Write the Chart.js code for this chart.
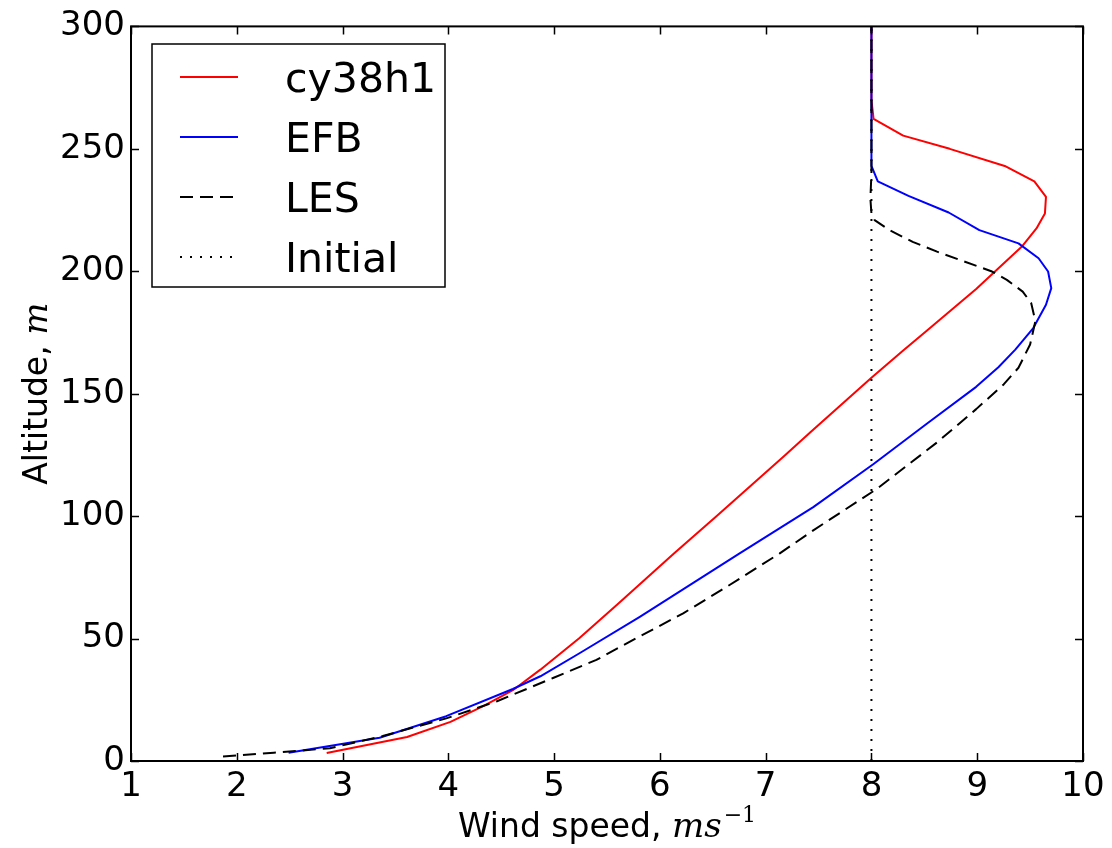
<!DOCTYPE html>
<html><head><meta charset="utf-8">
<script src="https://cdn.jsdelivr.net/npm/chart.js@4.4.1/dist/chart.umd.min.js"></script>
<style>html,body{margin:0;padding:0;background:#fff;overflow:hidden;}</style>
</head><body>
<canvas id="c" width="1112" height="848"></canvas>
<script>
// ---- data ----
const seriesLabels = ['cy38h1', 'EFB', 'LES', 'Initial'];

const cySpeed = [2.85, 3.61, 4.02, 4.33, 4.61, 4.87, 5.24, 5.60, 6.13, 6.54, 7.17, 7.42, 8.0, 8.30, 8.52, 8.99, 9.15, 9.42, 9.56, 9.64, 9.65, 9.54, 9.26, 8.74, 8.30, 8.02, 8.0, 8.0];
const cyAlt   = [3.3, 9.8, 16, 22.4, 28.9, 37.3, 50.2, 64, 84.6, 100.2, 124.4, 134.2, 156.5, 167.6, 175.6, 192.8, 199.2, 210, 217.5, 223.6, 230.4, 236.7, 243, 250, 255.4, 262.2, 270, 300];

const efbSpeed = [2.49, 3.35, 3.98, 4.61, 4.87, 5.24, 5.81, 6.75, 7.45, 8.02, 8.52, 8.99, 9.20, 9.36, 9.53, 9.65, 9.70, 9.67, 9.58, 9.39, 9.02, 8.73, 8.35, 8.06, 8.0, 8.0];
const efbAlt   = [3.4, 9.5, 18.3, 29.4, 34.6, 44, 58.9, 84.7, 103.7, 121.3, 137.6, 152.8, 160.8, 168, 176.8, 186.3, 193.1, 199.9, 205.3, 211.4, 216.8, 224, 230.8, 236.7, 243, 300];

const lesSpeed = [1.87, 2.35, 2.88, 3.38, 3.98, 4.46, 4.99, 5.40, 5.78, 6.22, 6.63, 7.13, 7.45, 8.05, 8.62, 8.99, 9.25, 9.39, 9.50, 9.55, 9.51, 9.43, 9.28, 9.14, 8.84, 8.62, 8.39, 8.17, 8.03, 8.0, 7.99, 8.0, 8.0];
const lesAlt   = [1.8, 3.4, 5.2, 10.2, 17.4, 24.4, 33.9, 41.3, 50.2, 60.3, 71.1, 84.7, 94.2, 111.1, 130.1, 143.7, 153.8, 160.6, 170.1, 179.6, 187, 191.7, 196.5, 199.9, 204.6, 208, 212, 216.8, 220.9, 223.6, 229.7, 240, 300];

const initSpeed = [8, 8];
const initAlt   = [0, 300];

const xTickValues = [1, 2, 3, 4, 5, 6, 7, 8, 9, 10];
const yTickValues = [0, 50, 100, 150, 200, 250, 300];

const xTitle = 'Wind speed, ';
const xTitleMath = 'ms';
const xTitleSup = '\u22121';
const yTitle = 'Altitude, ';
const yTitleMath = 'm';

// ---- build ----
const pts = (xs, ys) => xs.map((x, i) => ({ x: x, y: ys[i] }));
const FONT = '"DejaVu Sans", sans-serif';
const MATH = '"DejaVu Serif", "Liberation Serif", serif';

const styles = [
  { color: '#ff0000', dash: [] },
  { color: '#0000ff', dash: [] },
  { color: '#000000', dash: [13, 7] },
  { color: '#000000', dash: [2, 8] }
];
const seriesData = [pts(cySpeed, cyAlt), pts(efbSpeed, efbAlt), pts(lesSpeed, lesAlt), pts(initSpeed, initAlt)];

const datasets = seriesData.map((d, i) => ({
  label: seriesLabels[i],
  data: d,
  order: seriesData.length - 1 - i,
  showLine: true,
  borderColor: styles[i].color,
  backgroundColor: styles[i].color,
  borderDash: styles[i].dash,
  borderWidth: 2,
  borderJoinStyle: 'round',
  pointRadius: 0,
  tension: 0,
  fill: false
}));

const decorPlugin = {
  id: 'decor',
  afterDraw(chart) {
    const ctx = chart.ctx;
    const a = chart.chartArea;
    const xs = chart.scales.x, ys = chart.scales.y;
    ctx.save();
    // inward ticks
    ctx.strokeStyle = '#000';
    ctx.lineWidth = 1.5;
    ctx.setLineDash([]);
    const tl = 8;
    ctx.beginPath();
    xTickValues.forEach(v => {
      const px = Math.round(xs.getPixelForValue(v)) + 0.5;
      ctx.moveTo(px, a.bottom); ctx.lineTo(px, a.bottom - tl);
      ctx.moveTo(px, a.top); ctx.lineTo(px, a.top + tl);
    });
    yTickValues.forEach(v => {
      const py = Math.round(ys.getPixelForValue(v)) + 0.5;
      ctx.moveTo(a.left, py); ctx.lineTo(a.left + tl, py);
      ctx.moveTo(a.right, py); ctx.lineTo(a.right - tl, py);
    });
    ctx.stroke();
    // frame
    ctx.lineWidth = 2;
    ctx.strokeRect(a.left, a.top, a.right - a.left, a.bottom - a.top);

    // legend
    const lx = 152, ly = 44, lw = 293, lh = 243;
    ctx.fillStyle = '#fff';
    ctx.fillRect(lx, ly, lw, lh);
    ctx.lineWidth = 1.5;
    ctx.strokeStyle = '#000';
    ctx.strokeRect(lx, ly, lw, lh);
    ctx.font = '41px ' + FONT;
    ctx.textBaseline = 'alphabetic';
    ctx.textAlign = 'left';
    seriesLabels.forEach((label, i) => {
      const ry = 77 + 60 * i;
      ctx.beginPath();
      ctx.strokeStyle = styles[i].color;
      ctx.lineWidth = 2;
      ctx.setLineDash(styles[i].dash);
      ctx.moveTo(180, ry); ctx.lineTo(238, ry);
      ctx.stroke();
      ctx.setLineDash([]);
      ctx.fillStyle = '#000';
      ctx.fillText(label, 285, ry + 15);
    });

    // x title
    ctx.fillStyle = '#000';
    const f1 = '33px ' + FONT, f2 = 'italic 34px ' + MATH, f3 = '22px ' + MATH;
    ctx.font = f1; const w1 = ctx.measureText(xTitle).width;
    ctx.font = f2; const w2 = ctx.measureText(xTitleMath).width;
    ctx.font = f3; const w3 = ctx.measureText(xTitleSup).width;
    let x0 = (a.left + a.right) / 2 - (w1 + w2 + w3 + 2) / 2;
    const by = 837;
    ctx.font = f1; ctx.fillText(xTitle, x0, by);
    ctx.font = f2; ctx.fillText(xTitleMath, x0 + w1, by);
    ctx.font = f3; ctx.fillText(xTitleSup, x0 + w1 + w2 + 2, by - 15);

    // y title
    ctx.save();
    ctx.translate(47, (a.top + a.bottom) / 2);
    ctx.rotate(-Math.PI / 2);
    ctx.font = f1; const v1 = ctx.measureText(yTitle).width;
    ctx.font = f2; const v2 = ctx.measureText(yTitleMath).width;
    const y0 = -(v1 + v2) / 2;
    ctx.font = f1; ctx.fillText(yTitle, y0, 0);
    ctx.font = f2; ctx.fillText(yTitleMath, y0 + v1, 0);
    ctx.restore();

    ctx.restore();
  }
};

new Chart(document.getElementById('c'), {
  type: 'scatter',
  data: { datasets: datasets },
  options: {
    responsive: false,
    devicePixelRatio: 1,
    animation: false,
    layout: { padding: { top: 24, right: 29, left: 0, bottom: 0 } },
    plugins: { legend: { display: false }, tooltip: { enabled: false } },
    scales: {
      x: {
        type: 'linear', min: 1, max: 10,
        afterFit(s) { s.height = 87; },
        afterBuildTicks(s) { s.ticks = xTickValues.map(v => ({ value: v })); },
        grid: { display: false, drawTicks: false },
        border: { display: false },
        ticks: { color: '#000', font: { family: FONT, size: 34 }, padding: 6, maxRotation: 0 }
      },
      y: {
        type: 'linear', min: 0, max: 300,
        afterFit(s) { s.width = 131; },
        afterBuildTicks(s) { s.ticks = yTickValues.map(v => ({ value: v })); },
        grid: { display: false, drawTicks: false },
        border: { display: false },
        ticks: { color: '#000', font: { family: FONT, size: 34 }, padding: 6 }
      }
    }
  },
  plugins: [decorPlugin]
});
</script>
</body></html>
